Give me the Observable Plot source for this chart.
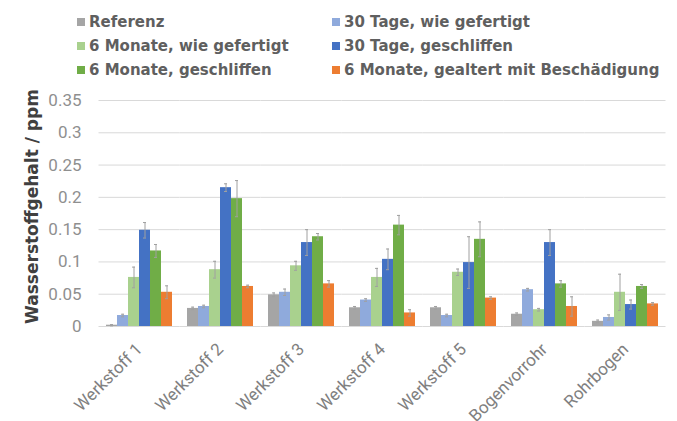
<!DOCTYPE html>
<html>
<head>
<meta charset="utf-8">
<script src="https://cdn.jsdelivr.net/npm/d3@7"></script>
<script src="https://cdn.jsdelivr.net/npm/@observablehq/plot@0.6"></script>
<style>
  html, body { margin: 0; padding: 0; background: #fff; }
  body { width: 677px; height: 421px; overflow: hidden; font-family: Roboto, "Noto Sans", sans-serif; }
  #legend { position: relative; width: 677px; height: 85px; }
  .item { position: absolute; display: flex; align-items: center; font-family: "DejaVu Sans", sans-serif; font-size: 15px; font-weight: 700; color: #5f5f5f; white-space: nowrap; }
  .swatch { width: 8px; height: 8px; margin-right: 4px; }
  #chart svg { display: block; }
</style>
</head>
<body>
<div id="legend"></div>
<div id="chart"></div>
<script>
// Werkstoffe / Proben
const categories = ["Werkstoff 1", "Werkstoff 2", "Werkstoff 3", "Werkstoff 4", "Werkstoff 5", "Bogenvorrohr", "Rohrbogen"];

// Messreihen
const seriesNames = [
  "Referenz",
  "30 Tage, wie gefertigt",
  "6 Monate, wie gefertigt",
  "30 Tage, geschliffen",
  "6 Monate, geschliffen",
  "6 Monate, gealtert mit Beschädigung"
];
const seriesColors = ["#a5a5a5", "#8faadc", "#a9d18e", "#4472c4", "#70ad47", "#ed7d31"];

// Mittelwerte Wasserstoffgehalt in ppm
const referenz        = [0.002, 0.028, 0.049, 0.029, 0.029, 0.019, 0.008];
const tage30Gefertigt = [0.017, 0.031, 0.053, 0.041, 0.017, 0.057, 0.014];
const mon6Gefertigt   = [0.076, 0.088, 0.094, 0.076, 0.084, 0.026, 0.053];
const tage30Geschl    = [0.149, 0.215, 0.130, 0.104, 0.099, 0.130, 0.034];
const mon6Geschl      = [0.117, 0.198, 0.139, 0.157, 0.135, 0.066, 0.062];
const mon6Gealtert    = [0.053, 0.062, 0.066, 0.021, 0.044, 0.031, 0.035];

// Standardabweichungen
const referenzErr        = [0.001, 0.002, 0.003, 0.002, 0.002, 0.002, 0.002];
const tage30GefertigtErr = [0.002, 0.002, 0.005, 0.002, 0.002, 0.002, 0.004];
const mon6GefertigtErr   = [0.016, 0.013, 0.007, 0.014, 0.005, 0.002, 0.028];
const tage30GeschlErr    = [0.012, 0.006, 0.020, 0.016, 0.040, 0.020, 0.007];
const mon6GeschlErr      = [0.010, 0.028, 0.005, 0.015, 0.027, 0.005, 0.003];
const mon6GealtertErr    = [0.010, 0.002, 0.005, 0.005, 0.002, 0.015, 0.002];

const yTicks = [0, 0.05, 0.1, 0.15, 0.2, 0.25, 0.3, 0.35];

const seriesValues = [referenz, tage30Gefertigt, mon6Gefertigt, tage30Geschl, mon6Geschl, mon6Gealtert];
const seriesErrors = [referenzErr, tage30GefertigtErr, mon6GefertigtErr, tage30GeschlErr, mon6GeschlErr, mon6GealtertErr];

const rows = [];
categories.forEach((cat, j) => {
  seriesNames.forEach((s, i) => {
    rows.push({cat, series: s, value: seriesValues[i][j], err: seriesErrors[i][j]});
  });
});

// Legende in zwei Spalten
const legend = document.getElementById("legend");
seriesNames.forEach((name, i) => {
  const col = i % 2, row = Math.floor(i / 2);
  const el = document.createElement("div");
  el.className = "item";
  el.style.left = (col === 0 ? 77 : 332) + "px";
  el.style.top = (13 + row * 24) + "px";
  const sw = document.createElement("span");
  sw.className = "swatch";
  sw.style.background = seriesColors[i];
  el.appendChild(sw);
  el.appendChild(document.createTextNode(name));
  legend.appendChild(el);
});

const fmt = d => String(+d.toFixed(2));

const chart = Plot.plot({
  width: 677,
  height: 336,
  marginTop: 15,
  marginBottom: 95,
  marginLeft: 97,
  marginRight: 9,
  style: {fontFamily: "Roboto, 'Noto Sans', sans-serif", background: "#fff"},
  fx: {domain: categories, paddingInner: 0.13, paddingOuter: 0.065, label: null},
  x: {domain: seriesNames, padding: 0, axis: null},
  y: {domain: [0, 0.35], label: null},
  color: {domain: seriesNames, range: seriesColors},
  marks: [
    // Gitterlinien je Gruppe, seitlich verlängert, damit sie durchgehend erscheinen
    Plot.ruleY(yTicks, {y: d => d, stroke: "#d9d9d9", strokeWidth: 1, insetLeft: -5.5, insetRight: -5.5}),
    Plot.axisY(yTicks, {tickSize: 0, tickPadding: 23, tickFormat: fmt, fontSize: 17, fill: "#8f8f8f", label: null}),
    Plot.axisFx({anchor: "bottom", tickSize: 0, tickPadding: 20, tickRotate: -45, fontSize: 17, fill: "#808080", label: null}),
    Plot.text(["Wasserstoffgehalt / ppm"], {
      frameAnchor: "left", textAnchor: "middle", rotate: -90, dx: -72, dy: -7,
      fontFamily: "DejaVu Sans", fontSize: 17, fontWeight: "bold", fill: "#404040", facet: "super"
    }),
    Plot.barY(rows, {fx: "cat", x: "series", y: "value", fill: "series"}),
    Plot.ruleX(rows, {fx: "cat", x: "series", y1: d => d.value - d.err, y2: d => d.value + d.err, stroke: "#a0a0a0", strokeWidth: 1}),
    Plot.tickY(rows, {fx: "cat", x: "series", y: d => d.value + d.err, stroke: "#a0a0a0", strokeWidth: 1, insetLeft: 4, insetRight: 4}),
    Plot.tickY(rows, {fx: "cat", x: "series", y: d => d.value - d.err, stroke: "#a0a0a0", strokeWidth: 1, insetLeft: 4, insetRight: 4})
  ]
});
document.getElementById("chart").appendChild(chart);
</script>
</body>
</html>
